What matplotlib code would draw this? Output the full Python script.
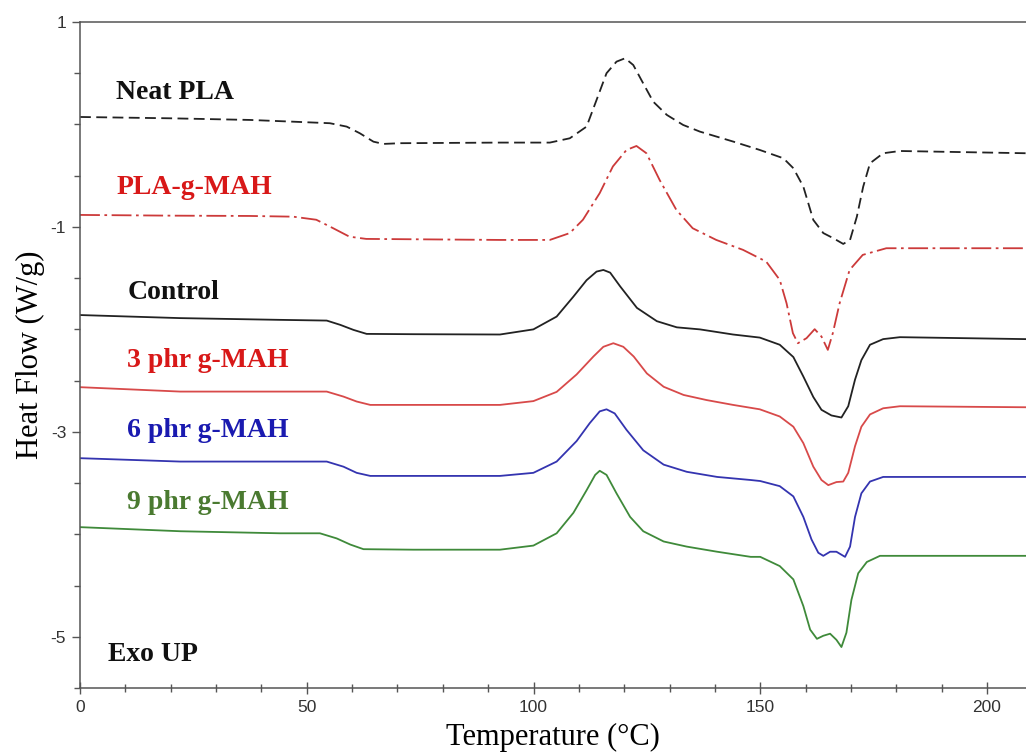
import numpy as np
import matplotlib
matplotlib.use("Agg")
import matplotlib.pyplot as plt
from matplotlib.ticker import MultipleLocator

plt.rcParams["axes.unicode_minus"] = False
plt.rcParams["lines.solid_joinstyle"] = "round"
plt.rcParams["lines.dash_joinstyle"] = "round"

# DSC heating curves
t_neat = [0, 20, 37.5, 47.0, 55.1, 58.8, 61.7, 64.7, 66.9, 70.6, 92.6, 103.6, 108, 111.7,
          113.9, 116.1, 118.3, 120.2, 122, 124.2, 126.4, 129.4, 133, 136.7, 144.1, 149.9,
          155.1, 157.3, 159.5, 161.7, 163.9, 166.1, 168.3, 169.8, 171.3, 172.7, 174.2, 177.1,
          180.8, 208.6]
hf_neat = [0.073, 0.06, 0.044, 0.027, 0.012, -0.021, -0.086, -0.168, -0.19, -0.183, -0.177,
           -0.177, -0.135, -0.021, 0.239, 0.50, 0.613, 0.646, 0.58, 0.40, 0.222, 0.093, -0.005,
           -0.07, -0.168, -0.249, -0.33, -0.427, -0.607, -0.932, -1.06, -1.11, -1.166, -1.127,
           -0.90, -0.607, -0.379, -0.281, -0.259, -0.281]

t_mah = [0, 20, 37.5, 47.0, 52.1, 55.7, 59.4, 63.1, 92.6, 103.6, 108, 110.9, 114.6, 117.5,
         120.5, 122.7, 124.9, 127.8, 131.5, 135.1, 140.3, 146.2, 151.3, 154.3, 155.8, 157.2,
         158.3, 160.2, 162, 163.5, 164.9, 166, 167.5, 169.7, 172.6, 177.8, 208.6]
hf_mah = [-0.883, -0.89, -0.893, -0.90, -0.93, -1.01, -1.095, -1.117, -1.127, -1.127, -1.06,
          -0.93, -0.67, -0.41, -0.249, -0.21, -0.281, -0.541, -0.834, -1.013, -1.127, -1.224,
          -1.338, -1.517, -1.745, -2.037, -2.135, -2.086, -1.998, -2.07, -2.20, -2.037, -1.745,
          -1.42, -1.273, -1.208, -1.208]

t_ctrl = [0, 22.1, 44.1, 54.4, 57.4, 60.3, 63.2, 73.5, 92.6, 99.97, 105.1, 108.8, 111.7,
          113.9, 115.4, 116.9, 119.1, 122.8, 127.2, 131.6, 136.7, 144, 149.9, 154.3, 157.3,
          159.5, 161.7, 163.5, 165.7, 167.9, 169.4, 170.9, 172.3, 174.2, 177.1, 180.8, 208.6]
hf_ctrl = [-1.86, -1.89, -1.907, -1.914, -1.956, -2.005, -2.044, -2.047, -2.05, -2.00, -1.875,
           -1.68, -1.52, -1.436, -1.42, -1.446, -1.58, -1.79, -1.92, -1.98, -2.0, -2.05, -2.08,
           -2.15, -2.27, -2.46, -2.66, -2.785, -2.84, -2.86, -2.75, -2.49, -2.30, -2.15, -2.095,
           -2.076, -2.095]

t_3phr = [0, 22.1, 44.1, 54.4, 58.1, 61, 64, 73.5, 92.6, 99.97, 105.1, 109.5, 113.2, 115.4,
          117.6, 119.8, 122.1, 125, 128.7, 133.1, 138.2, 144, 149.9, 154.3, 157.3, 159.5, 161.7,
          163.5, 165, 166.8, 168.3, 169.4, 170.9, 172.3, 174.2, 177.1, 180.8, 208.6]
hf_3phr = [-2.564, -2.607, -2.607, -2.607, -2.656, -2.704, -2.737, -2.737, -2.737, -2.70, -2.61,
           -2.44, -2.265, -2.17, -2.135, -2.17, -2.265, -2.43, -2.56, -2.64, -2.69, -2.737, -2.78,
           -2.85, -2.95, -3.11, -3.34, -3.47, -3.52, -3.49, -3.485, -3.40, -3.14, -2.95, -2.83,
           -2.77, -2.75, -2.76]

t_6phr = [0, 22.1, 44.1, 54.4, 58.1, 61, 64, 92.6, 99.97, 105.1, 109.5, 112.4, 114.6, 116.1,
          117.9, 120.5, 124.2, 128.7, 133.8, 140.5, 147.9, 150, 154.3, 157.3, 159.5, 161.3,
          162.8, 163.9, 165.4, 166.8, 168.7, 169.8, 170.9, 172.3, 174.2, 177.1, 208.6]
hf_6phr = [-3.257, -3.29, -3.29, -3.29, -3.34, -3.40, -3.43, -3.43, -3.40, -3.29, -3.09, -2.915,
           -2.80, -2.78, -2.82, -2.98, -3.18, -3.32, -3.39, -3.44, -3.47, -3.48, -3.53, -3.63,
           -3.83, -4.05, -4.18, -4.21, -4.17, -4.17, -4.22, -4.12, -3.83, -3.60, -3.485, -3.44,
           -3.44]

t_9phr = [0, 22.1, 44.1, 52.9, 56.6, 59.6, 62.5, 73.5, 92.6, 99.97, 105.1, 108.8, 111.7, 113.6,
          114.6, 116.1, 118.3, 121.3, 124.2, 128.7, 133.8, 140.5, 147.9, 150, 154.3, 157.3,
          159.5, 161, 162.5, 163.9, 165.4, 166.8, 167.9, 169, 170.1, 171.6, 173.5, 176.4, 208.6]
hf_9phr = [-3.93, -3.97, -3.99, -3.99, -4.04, -4.10, -4.145, -4.15, -4.15, -4.11, -3.99, -3.79,
           -3.57, -3.42, -3.38, -3.42, -3.60, -3.83, -3.97, -4.07, -4.12, -4.17, -4.22, -4.22,
           -4.31, -4.44, -4.70, -4.93, -5.02, -4.99, -4.97, -5.03, -5.10, -4.96, -4.64, -4.38,
           -4.27, -4.21, -4.21]

labels = ["Neat PLA", "PLA-g-MAH", "Control", "3 phr g-MAH", "6 phr g-MAH", "9 phr g-MAH"]
label_x = [7.9, 8.1, 10.4, 10.4, 10.4, 10.4]
label_y = [0.25, -0.68, -1.70, -2.37, -3.05, -3.75]

fig = plt.figure(figsize=(10.26, 7.53), dpi=100)
ax = fig.add_axes([0.078, 0.0863, 0.922, 0.8845])

lw = 1.3
ax.plot(t_neat, hf_neat, color="#222222", lw=lw, dashes=(6, 3))
ax.plot(t_mah, hf_mah, color="#cc3a3a", lw=lw, dashes=(11, 2.5, 1.5, 2.5))
ax.plot(t_ctrl, hf_ctrl, color="#222222", lw=lw)
ax.plot(t_3phr, hf_3phr, color="#d84a4a", lw=lw)
ax.plot(t_6phr, hf_6phr, color="#3434b0", lw=lw)
ax.plot(t_9phr, hf_9phr, color="#3f8a3a", lw=lw)

label_colors = ["#111111", "#d81818", "#111111", "#d81818", "#1a1ab0", "#4a7a30"]
for name, x, y, c in zip(labels, label_x, label_y, label_colors):
    ax.text(x, y, name, color=c, fontsize=20, fontweight="bold",
            family="Liberation Serif", va="baseline", ha="left")
ax.text(6.2, -5.24, "Exo UP", color="#111111", fontsize=20, fontweight="bold",
        family="Liberation Serif", va="baseline", ha="left")

ax.set_xlim(0, 208.6)
ax.set_ylim(-5.5, 1)
ax.xaxis.set_major_locator(MultipleLocator(50))
ax.xaxis.set_minor_locator(MultipleLocator(10))
ax.set_yticks([1, -1, -3, -5])
ax.yaxis.set_minor_locator(MultipleLocator(0.5))

ax.spines["right"].set_visible(False)
for s in ["left", "bottom", "top"]:
    ax.spines[s].set_color("#555555")
    ax.spines[s].set_linewidth(1.1)

ax.tick_params(axis="x", which="major", direction="inout", length=9, width=1, color="#555555")
ax.tick_params(axis="x", which="minor", direction="inout", length=6, width=1, color="#555555")
ax.tick_params(axis="y", which="major", direction="out", length=6, width=1, color="#555555")
ax.tick_params(axis="y", which="minor", direction="out", length=4, width=1, color="#555555")
ax.tick_params(axis="both", labelsize=12.5, labelcolor="#333333", pad=4)
for lab in ax.get_xticklabels() + ax.get_yticklabels():
    lab.set_family("Liberation Sans")

ax.set_xlabel("Temperature (\u00b0C)", fontsize=22, family="Liberation Serif", labelpad=6)
ax.set_ylabel("Heat Flow (W/g)", fontsize=22, family="Liberation Serif", labelpad=4)

fig.savefig("out.png", dpi=100)
